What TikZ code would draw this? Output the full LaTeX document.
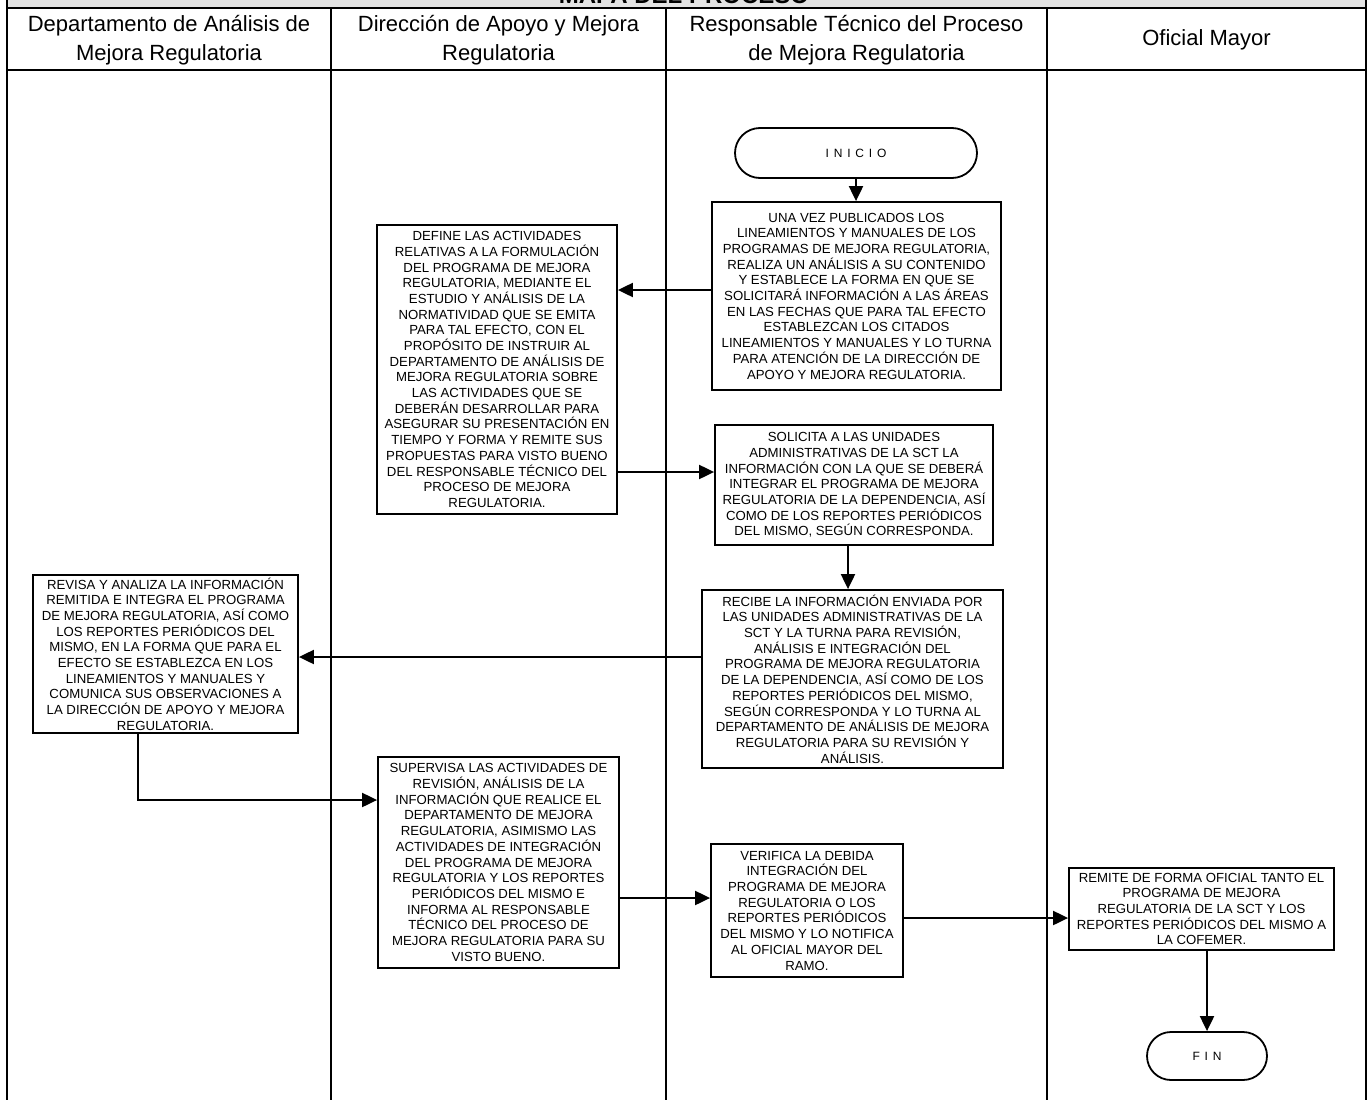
\documentclass[tikz,border=0pt]{standalone}
\usepackage{fontspec}
\setmainfont{Liberation Sans}
\usetikzlibrary{arrows.meta}

\definecolor{bandgray}{HTML}{E3E3E3}

\tikzset{
  lane/.style={line width=2pt, line cap=rect},
  hdr/.style={align=center, inner sep=0pt, font=\fontsize{22}{29}\selectfont},
  box/.style={draw, line width=1.8pt, fill=white, align=center, inner sep=0pt,
              font=\fontsize{13.2}{15.7}\selectfont},
  term/.style={draw, line width=1.8pt, fill=white, inner sep=0pt,
               font=\fontsize{12}{12}\selectfont\addfontfeature{LetterSpace=40}},
  arr/.style={line width=2pt, -{Triangle[length=15pt,width=14pt]}},
}

\begin{document}
\begin{tikzpicture}[x=1pt,y=-1pt]
\useasboundingbox (0,0) rectangle (1368,1100);
\clip (0,0) rectangle (1368,1100);

% title band (cut at the top of the sheet)
\fill[bandgray] (7,-10) rectangle (1366,7.5);
\node[font=\bfseries\fontsize{24}{24}\selectfont, anchor=base, inner sep=0pt] (title) at (684,4) {MAPA DEL PROCESO};

% swimlane frame
\draw[lane] (7,-10) -- (7,1110);
\draw[lane] (1366,-10) -- (1366,1110);
\draw[lane] (331,7.5) -- (331,1110);
\draw[lane] (666,7.5) -- (666,1110);
\draw[lane] (1047,7.5) -- (1047,1110);
\draw[lane] (7,7.5) -- (1366,7.5);
\draw[lane] (7,70) -- (1366,70);

% lane headers
\node[hdr] (h1) at (169,40) {Departamento de Análisis de\\Mejora Regulatoria};
\node[hdr] (h2) at (498.5,40) {Dirección de Apoyo y Mejora\\Regulatoria};
\node[hdr] (h3) at (856.5,40) {Responsable Técnico del Proceso\\de Mejora Regulatoria};
\node[hdr] (h4) at (1206.5,40) {Oficial Mayor};

% terminals
\node[term, rounded corners=25pt, minimum width=242pt, minimum height=50pt] (inicio) at (856,153) {INICIO};
\node[term, rounded corners=24pt, minimum width=120pt, minimum height=48pt] (fin) at (1207,1056) {FIN};

% activities
\node[box, minimum width=289pt, minimum height=188pt] (b1) at (856.5,296) {%
UNA VEZ PUBLICADOS LOS\\
LINEAMIENTOS Y MANUALES DE LOS\\
PROGRAMAS DE MEJORA REGULATORIA,\\
REALIZA UN ANÁLISIS A SU CONTENIDO\\
Y ESTABLECE LA FORMA EN QUE SE\\
SOLICITARÁ INFORMACIÓN A LAS ÁREAS\\
EN LAS FECHAS QUE PARA TAL EFECTO\\
ESTABLEZCAN LOS CITADOS\\
LINEAMIENTOS Y MANUALES Y LO TURNA\\
PARA ATENCIÓN DE LA DIRECCIÓN DE\\
APOYO Y MEJORA REGULATORIA.};

\node[box, minimum width=240pt, minimum height=289pt] (b2) at (497,369.5) {%
DEFINE LAS ACTIVIDADES\\
RELATIVAS A LA FORMULACIÓN\\
DEL PROGRAMA DE MEJORA\\
REGULATORIA, MEDIANTE EL\\
ESTUDIO Y ANÁLISIS DE LA\\
NORMATIVIDAD QUE SE EMITA\\
PARA TAL EFECTO, CON EL\\
PROPÓSITO DE INSTRUIR AL\\
DEPARTAMENTO DE ANÁLISIS DE\\
MEJORA REGULATORIA SOBRE\\
LAS ACTIVIDADES QUE SE\\
DEBERÁN DESARROLLAR PARA\\
ASEGURAR SU PRESENTACIÓN EN\\
TIEMPO Y FORMA Y REMITE SUS\\
PROPUESTAS PARA VISTO BUENO\\
DEL RESPONSABLE TÉCNICO DEL\\
PROCESO DE MEJORA\\
REGULATORIA.};

\node[box, minimum width=278pt, minimum height=120pt] (b3) at (854,485) {%
SOLICITA A LAS UNIDADES\\
ADMINISTRATIVAS DE LA SCT LA\\
INFORMACIÓN CON LA QUE SE DEBERÁ\\
INTEGRAR EL PROGRAMA DE MEJORA\\
REGULATORIA DE LA DEPENDENCIA, ASÍ\\
COMO DE LOS REPORTES PERIÓDICOS\\
DEL MISMO, SEGÚN CORRESPONDA.};

\node[box, minimum width=301pt, minimum height=178pt] (b4) at (852.5,679) {%
RECIBE LA INFORMACIÓN ENVIADA POR\\
LAS UNIDADES ADMINISTRATIVAS DE LA\\
SCT Y LA TURNA PARA REVISIÓN,\\
ANÁLISIS E INTEGRACIÓN DEL\\
PROGRAMA DE MEJORA REGULATORIA\\
DE LA DEPENDENCIA, ASÍ COMO DE LOS\\
REPORTES PERIÓDICOS DEL MISMO,\\
SEGÚN CORRESPONDA Y LO TURNA AL\\
DEPARTAMENTO DE ANÁLISIS DE MEJORA\\
REGULATORIA PARA SU REVISIÓN Y\\
ANÁLISIS.};

\node[box, minimum width=265pt, minimum height=158pt] (b5) at (165.5,654) {%
REVISA Y ANALIZA LA INFORMACIÓN\\
REMITIDA E INTEGRA EL PROGRAMA\\
DE MEJORA REGULATORIA, ASÍ COMO\\
LOS REPORTES PERIÓDICOS DEL\\
MISMO, EN LA FORMA QUE PARA EL\\
EFECTO SE ESTABLEZCA EN LOS\\
LINEAMIENTOS Y MANUALES Y\\
COMUNICA SUS OBSERVACIONES A\\
LA DIRECCIÓN DE APOYO Y MEJORA\\
REGULATORIA.};

\node[box, minimum width=241pt, minimum height=211pt] (b6) at (498.5,862.5) {%
SUPERVISA LAS ACTIVIDADES DE\\
REVISIÓN, ANÁLISIS DE LA\\
INFORMACIÓN QUE REALICE EL\\
DEPARTAMENTO DE MEJORA\\
REGULATORIA, ASIMISMO LAS\\
ACTIVIDADES DE INTEGRACIÓN\\
DEL PROGRAMA DE MEJORA\\
REGULATORIA Y LOS REPORTES\\
PERIÓDICOS DEL MISMO E\\
INFORMA AL RESPONSABLE\\
TÉCNICO DEL PROCESO DE\\
MEJORA REGULATORIA PARA SU\\
VISTO BUENO.};

\node[box, minimum width=192pt, minimum height=133pt] (b7) at (807,910.5) {%
VERIFICA LA DEBIDA\\
INTEGRACIÓN DEL\\
PROGRAMA DE MEJORA\\
REGULATORIA O LOS\\
REPORTES PERIÓDICOS\\
DEL MISMO Y LO NOTIFICA\\
AL OFICIAL MAYOR DEL\\
RAMO.};

\node[box, minimum width=265pt, minimum height=82pt] (b8) at (1201.5,909) {%
REMITE DE FORMA OFICIAL TANTO EL\\
PROGRAMA DE MEJORA\\
REGULATORIA DE LA SCT Y LOS\\
REPORTES PERIÓDICOS DEL MISMO A\\
LA COFEMER.};

% connector heights and columns
\coordinate (y12) at (0,290);
\coordinate (y23) at (0,472);
\coordinate (x34) at (848,0);
\coordinate (y45) at (0,657);
\coordinate (x56) at (138,0);
\coordinate (y56) at (0,800);
\coordinate (y67) at (0,898);
\coordinate (y78) at (0,918);

% flow
\draw[arr] (inicio.south) -- (b1.north -| inicio.south);
\draw[arr] (b1.west |- y12) -- (b2.east |- y12);
\draw[arr] (b2.east |- y23) -- (b3.west |- y23);
\draw[arr] (b3.south -| x34) -- (b4.north -| x34);
\draw[arr] (b4.west |- y45) -- (b5.east |- y45);
\draw[arr] (b5.south -| x56) |- (b6.west |- y56);
\draw[arr] (b6.east |- y67) -- (b7.west |- y67);
\draw[arr] (b7.east |- y78) -- (b8.west |- y78);
\draw[arr] (b8.south -| fin.north) -- (fin.north);
\end{tikzpicture}
\end{document}
